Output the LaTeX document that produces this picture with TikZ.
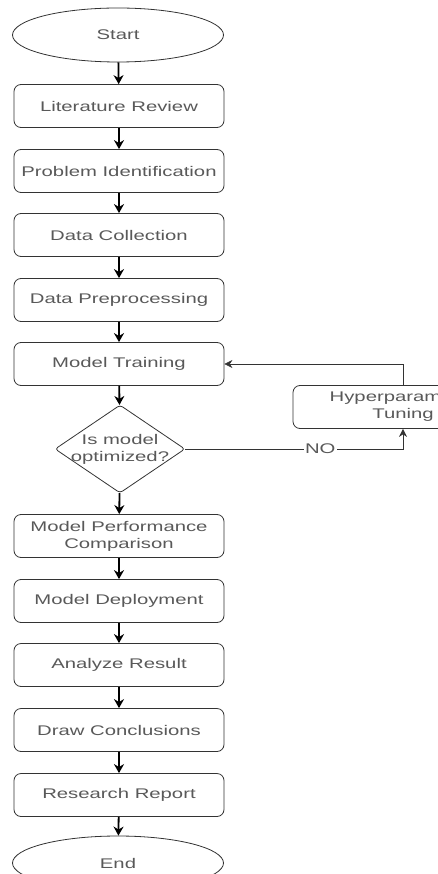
\documentclass[tikz,border=0pt]{standalone}
\usepackage{fontspec}
\setmainfont[FakeStretch=1.45]{Liberation Sans}
\usetikzlibrary{shapes.geometric,arrows.meta,positioning}

\begin{document}
\begin{tikzpicture}[x=1pt, y=-1pt,
    lbl/.style={text=black!65, font=\fontsize{14}{17}\selectfont, align=center},
    box/.style={lbl, draw=black!80, line width=0.8pt, rounded corners=7pt, minimum width=210pt, minimum height=43pt, inner sep=1pt},
    term/.style={lbl, ellipse, draw=black!80, line width=0.8pt, minimum width=211pt, minimum height=54pt},
    decision/.style={diamond, draw=black!80, line width=0.8pt, rounded corners=3pt, minimum width=130pt, minimum height=88pt, inner sep=0pt},
    flow/.style={-{Stealth[length=9pt,width=10pt]}, line width=1.8pt},
    back/.style={-{Stealth[length=8pt,width=8pt]}, line width=0.6pt, draw=black!80}]
    \useasboundingbox (0,0) rectangle (438,874);
    \clip (0,0) rectangle (438,874);

    % Main column
    \node[term] (start) at (118,35) {Start};
    \node[box] (lit) at (119,106) {Literature Review};
    \node[box] (prob) at (119,171) {Problem Identification};
    \node[box] (coll) at (119,235) {Data Collection};
    \node[box] (prep) at (119,300) {Data Preprocessing};
    \node[box] (train) at (119,364) {Model Training};
    \node[decision] (opt) at (120,449) {};
    \node[lbl] (optlbl) at (opt) {Is model\\optimized?};
    \node[box] (comp) at (119,536) {Model Performance\\Comparison};
    \node[box] (deploy) at (119,601) {Model Deployment};
    \node[box] (result) at (119,665) {Analyze Result};
    \node[box] (concl) at (119,730) {Draw Conclusions};
    \node[box] (report) at (119,795) {Research Report};
    \node[term] (end) at (118,863) {End};

    % Tuning loop
    \node[box, minimum width=220pt] (tune) at (403,407) {Hyperparameter\\Tuning};

    % Arrows
    \draw[flow] (start) -- (lit);
    \draw[flow] (lit) -- (prob);
    \draw[flow] (prob) -- (coll);
    \draw[flow] (coll) -- (prep);
    \draw[flow] (prep) -- (train);
    \draw[flow] (train) -- (opt);
    \draw[flow] (opt) -- (comp);
    \draw[flow] (comp) -- (deploy);
    \draw[flow] (deploy) -- (result);
    \draw[flow] (result) -- (concl);
    \draw[flow] (concl) -- (report);
    \draw[flow] (report) -- (end);

    \draw[back] (opt.east) -- node[pos=0.62, lbl, fill=white, inner sep=1pt] {NO} (opt.east -| tune.south) -- (tune.south);
    \draw[back] (tune.north) |- (train.east);
\end{tikzpicture}
\end{document}
